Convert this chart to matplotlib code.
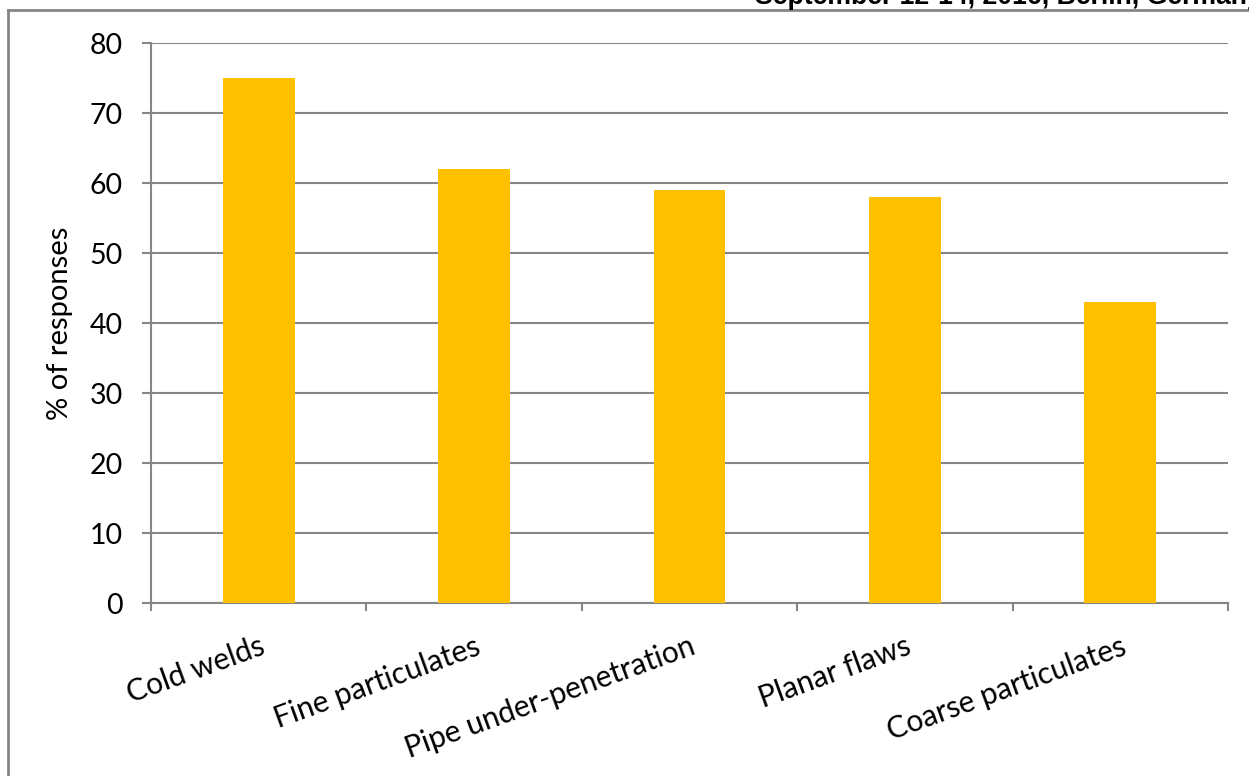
import numpy as np
import matplotlib.pyplot as plt
from matplotlib.lines import Line2D

categories = ['Cold welds', 'Fine particulates', 'Pipe under-penetration',
              'Planar flaws', 'Coarse particulates']
values = [75, 62, 59, 58, 43]
yticks = [0, 10, 20, 30, 40, 50, 60, 70, 80]

GRAY = '#868686'
BAR = '#FFC000'
FONT = ['Lato', 'DejaVu Sans']

fig = plt.figure(figsize=(12.49, 7.76), dpi=100)
ax = fig.add_axes([151 / 1249, 173 / 776, 1077 / 1249, 560 / 776])

x = np.arange(len(categories))
ax.bar(x, values, width=0.334, color=BAR, zorder=3)

ax.set_xlim(-0.5, len(categories) - 0.5)
ax.set_ylim(0, 80)
ax.set_yticks(yticks)
ax.set_yticklabels([str(v) for v in yticks], fontsize=20.5, family=FONT)
ax.yaxis.grid(True, color=GRAY, linewidth=1.5, zorder=0)
ax.tick_params(axis='y', length=6.5, width=1.5, color=GRAY, pad=14)

# category boundaries as tick marks, labels at the centres
ax.set_xticks(np.arange(-0.5, len(categories)))
ax.set_xticklabels([])
ax.tick_params(axis='x', which='major', length=6, width=1.5, color=GRAY)
ax.set_xticks(x, minor=True)
ax.set_xticklabels(categories, minor=True, rotation=20, ha='right', va='top',
                   rotation_mode='anchor', fontsize=21.5, family=FONT)
ax.tick_params(axis='x', which='minor', length=0, pad=21)

for s in ['top', 'right']:
    ax.spines[s].set_visible(False)
for s in ['left', 'bottom']:
    ax.spines[s].set_color(GRAY)
    ax.spines[s].set_linewidth(1.5)

ax.set_ylabel('% of responses', fontsize=21, family=FONT, labelpad=12)

# chart area border and header line
fig.add_artist(Line2D([8 / 1249, 8 / 1249], [0, 1 - 10 / 776], color=GRAY,
                      linewidth=2, transform=fig.transFigure))
fig.add_artist(Line2D([8 / 1249, 1], [1 - 10 / 776, 1 - 10 / 776], color=GRAY,
                      linewidth=2, transform=fig.transFigure))
# page header, cut off at the top edge like in the source
fig.text(755 / 1249, 1 - 4 / 776, 'September 12-14, 2016, Berlin, Germany',
         fontsize=19.2, fontweight='bold', family='Liberation Sans',
         ha='left', va='baseline')

fig.savefig('out.png', dpi=100)
